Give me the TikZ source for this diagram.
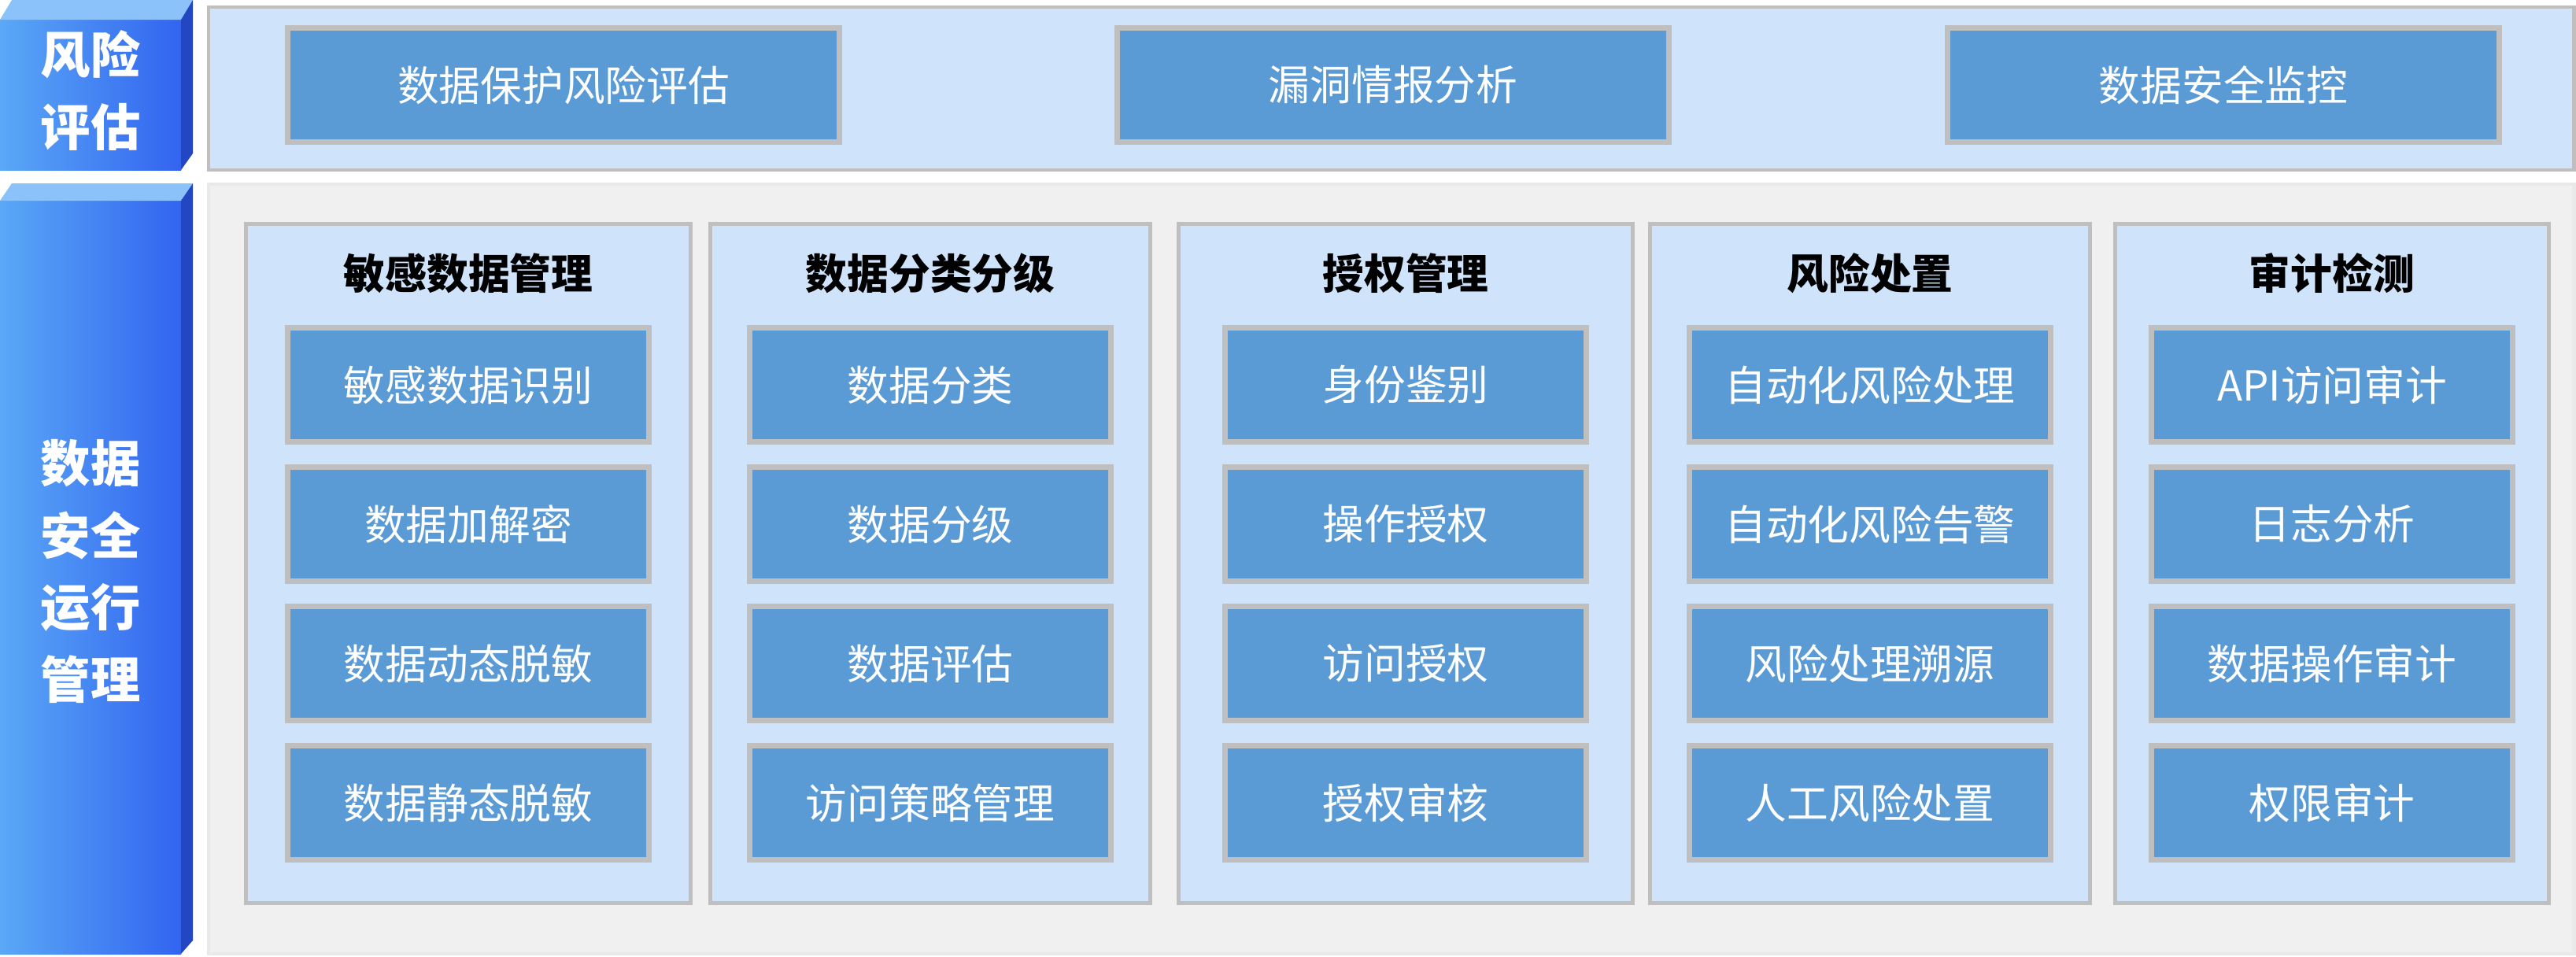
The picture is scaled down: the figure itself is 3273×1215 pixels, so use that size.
\documentclass[tikz,border=0pt]{standalone}
\usepackage{fontspec}
\setmainfont{Noto Sans CJK SC}
\usetikzlibrary{positioning,shadows}
\definecolor{paneblue}{HTML}{CFE3FB}
\definecolor{boxblue}{HTML}{5B9BD5}
\definecolor{edgegray}{HTML}{BFBFBF}
\definecolor{backgray}{HTML}{F0F0F0}
\definecolor{barlight}{HTML}{5AA8F6}
\definecolor{bardark}{HTML}{3264F0}
\definecolor{barside}{HTML}{2346C2}
\tikzset{
  itembox/.style={draw=edgegray, line width=2pt, fill=boxblue, text=white,
    minimum width=4.58cm, minimum height=1.45cm, inner sep=0pt,
    font=\fontsize{15}{18}\selectfont},
  topbox/.style={itembox, minimum width=7cm},
  colbox/.style={draw=edgegray, line width=1.4pt, fill=paneblue, minimum height=8.63cm, inner sep=0pt},
  coltitle/.style={font=\fontsize{15}{18}\selectfont\bfseries, text=black},
  barlabel/.style={text=white, font=\fontsize{18}{26}\selectfont\bfseries, align=center}
}
\begin{document}
\begin{tikzpicture}[x=0.01cm, y=-0.01cm]
  \useasboundingbox (0,0) rectangle (3273,1215);

  % Linke Balken
  \shade[left color=barlight, right color=bardark] (0,25) rectangle (230,216);
  \fill[barlight!70!white] (0,25) -- (15,0) -- (245,0) -- (230,25) -- cycle;
  \fill[barside] (230,25) -- (245,0) -- (245,195) -- (230,216) -- cycle;
  \shade[left color=barlight, right color=bardark] (0,255) rectangle (230,1212);
  \fill[barlight!70!white] (0,255) -- (15,233) -- (245,233) -- (230,255) -- cycle;
  \fill[barside] (230,255) -- (245,233) -- (245,1195) -- (230,1212) -- cycle;
  \node[barlabel] (risklabel) at (115,115) {风险\\评估};
  \node[barlabel] (opslabel) at (115,726) {数据\\安全\\运行\\管理};

  % Risikobewertung
  \draw[draw=edgegray, line width=1.4pt, fill=paneblue] (265,9) rectangle (3270,216);
  \node[topbox] (protect) at (716,108)  {数据保护风险评估};
  \node[topbox] (vuln)    at (1770,108) {漏洞情报分析};
  \node[topbox] (monitor) at (2825,108) {数据安全监控};

  % Betrieb
  \draw[draw=backgray!80!black!15!backgray, line width=1.4pt, fill=backgray] (265,234) rectangle (3270,1212);

  \foreach \cx/\w/\title/\a/\b/\c/\d [count=\i] in {
      595/5.64/敏感数据管理/敏感数据识别/数据加解密/数据动态脱敏/数据静态脱敏,
      1182/5.59/数据分类分级/数据分类/数据分级/数据评估/访问策略管理,
      1786/5.77/授权管理/身份鉴别/操作授权/访问授权/授权审核,
      2376/5.58/风险处置/自动化风险处理/自动化风险告警/风险处理溯源/人工风险处置,
      2963/5.51/审计检测/API访问审计/日志分析/数据操作审计/权限审计} {
    \node[colbox, minimum width=\w cm] (col\i) at (\cx,716) {};
    \node[coltitle] (title\i) at (\cx,347) {\title};
    \node[itembox] (item\i a) at (\cx,489)  {\a};
    \node[itembox] (item\i b) at (\cx,666)  {\b};
    \node[itembox] (item\i c) at (\cx,843)  {\c};
    \node[itembox] (item\i d) at (\cx,1020) {\d};
  }
\end{tikzpicture}
\end{document}
